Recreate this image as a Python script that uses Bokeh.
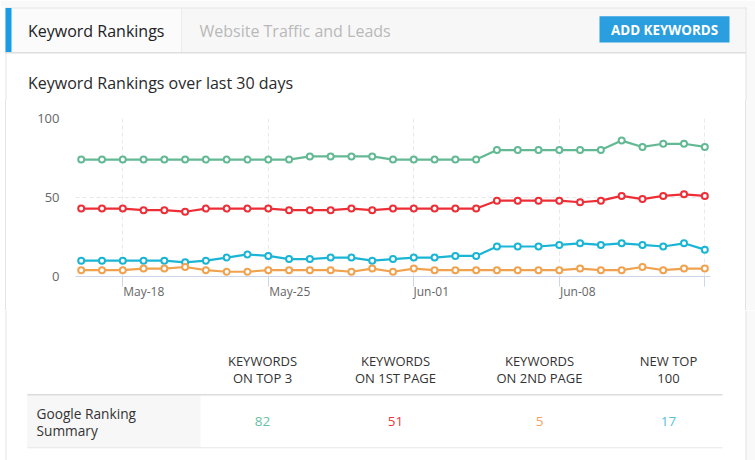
from bokeh.plotting import figure
from bokeh.layouts import column, row
from bokeh.models import Range1d, FixedTicker, Spacer, LinearAxis, CustomLabelingPolicy
from bokeh.core.properties import value
from bokeh.embed import file_html
from bokeh.resources import INLINE

# ---------------- data ----------------
dates = ["May-16", "May-17", "May-18", "May-19", "May-20", "May-21", "May-22", "May-23",
         "May-24", "May-25", "May-26", "May-27", "May-28", "May-29", "May-30", "May-31",
         "Jun-01", "Jun-02", "Jun-03", "Jun-04", "Jun-05", "Jun-06", "Jun-07", "Jun-08",
         "Jun-09", "Jun-10", "Jun-11", "Jun-12", "Jun-13", "Jun-14", "Jun-15"]
top3 = [74, 74, 74, 74, 74, 74, 74, 74, 74, 74, 74, 76, 76, 76, 76, 74, 74, 74, 74, 74,
        80, 80, 80, 80, 80, 80, 86, 82, 84, 84, 82]
first_page = [43, 43, 43, 42, 42, 41, 43, 43, 43, 43, 42, 42, 42, 43, 42, 43, 43, 43, 43, 43,
              48, 48, 48, 48, 47, 48, 51, 49, 51, 52, 51]
new_top100 = [10, 10, 10, 10, 10, 9, 10, 12, 14, 13, 11, 11, 12, 12, 10, 11, 12, 12, 13, 13,
              19, 19, 19, 20, 21, 20, 21, 20, 19, 21, 17]
second_page = [4, 4, 4, 5, 5, 6, 4, 3, 3, 4, 4, 4, 4, 3, 5, 3, 5, 4, 4, 4,
               4, 4, 4, 4, 5, 4, 4, 6, 4, 5, 5]
tick_dates = ["May-18", "May-25", "Jun-01", "Jun-08", "Jun-15"]
label_dates = ["May-18", "May-25", "Jun-01", "Jun-08"]
y_ticks = [0, 50, 100]

summary_head1 = ["KEYWORDS", "KEYWORDS", "KEYWORDS", "NEW TOP"]
summary_head2 = ["ON TOP 3", "ON 1ST PAGE", "ON 2ND PAGE", "100"]
summary_values = ["82", "51", "5", "17"]
row_label = ["Google Ranking", "Summary"]

# ---------------- styles ----------------
FONT = value("Open Sans")
GREEN, RED, CYAN, ORANGE = "#63b994", "#ee2e36", "#1ab5d5", "#f0a24f"
VAL_COLORS = ["#6ac0a4", "#e83a3f", "#f3a35e", "#57bfdc"]
CARD_BORDER = "#e3e3e3"
OUTSIDE = "#f9f9f9"
PX_PER_DAY = 20.79
LABEL_HALF_PX = [21, 21.5, 17.5, 18.5]   # half widths of the x labels (left-aligned at tick)


def plain(height, y0, y1):
    f = figure(width=755, height=height, x_range=Range1d(0, 755), y_range=Range1d(y1, y0),
               x_axis_type=None, y_axis_type=None, toolbar_location=None,
               output_backend="svg", min_border=0, outline_line_color=None,
               background_fill_color="white", border_fill_color="white",
               frame_align=False)
    return f


def card_sides(f, y0, y1):
    f.quad(left=[745.5], right=[755], top=[y0], bottom=[y1], fill_color=OUTSIDE, line_color=None)
    f.segment(x0=[5.5, 745.5], y0=[y0, y0], x1=[5.5, 745.5], y1=[y1, y1],
              line_color=CARD_BORDER, line_width=1)


# ---------------- header + title ----------------
hdr = plain(100, 0, 100)
hdr.quad(left=[0], right=[755], top=[0], bottom=[7], fill_color=OUTSIDE, line_color=None)
hdr.quad(left=[5], right=[745], top=[7.5], bottom=[52], fill_color="#f7f7f7", line_color=None)
hdr.quad(left=[5], right=[181], top=[7.5], bottom=[52], fill_color="#fbfbfb", line_color=None)
card_sides(hdr, 7, 100)
hdr.segment(x0=[5], y0=[7.5], x1=[746], y1=[7.5], line_color=CARD_BORDER, line_width=1)
hdr.segment(x0=[181], y0=[8], x1=[181], y1=[52], line_color="#ececec", line_width=1)
hdr.quad(left=[5], right=[11], top=[7.5], bottom=[52], fill_color="#1a9be6", line_color=None)
hdr.segment(x0=[5], y0=[52.3], x1=[745], y1=[52.3], line_color="#dedede", line_width=1.5)
hdr.text(x=[27.5], y=[30], text=["Keyword Rankings"], text_font=FONT,
         text_font_size=value("16px"), text_color="#222222",
         text_baseline="middle", text_align="left")
hdr.text(x=[199], y=[30], text=["Website Traffic and Leads"], text_font=FONT,
         text_font_size=value("16px"), text_color="#b9b9b9",
         text_baseline="middle", text_align="left")
hdr.quad(left=[599], right=[729], top=[15.7], bottom=[42], fill_color="#2b9ee0", line_color=None)
hdr.text(x=[664], y=[29], text=["ADD KEYWORDS"], text_font=FONT,
         text_font_size=value("13.4px"), text_font_style="bold", text_color="white",
         text_baseline="middle", text_align="center")
hdr.text(x=[27.5], y=[82], text=["Keyword Rankings over last 30 days"], text_font=FONT,
         text_font_size=value("16px"), text_color="#2a2a2a",
         text_baseline="middle", text_align="left")

# ---------------- chart ----------------
x = list(range(len(dates)))
p = figure(width=739, height=210, x_range=Range1d(-0.274, 30.274), y_range=Range1d(0, 100),
           toolbar_location=None, output_backend="svg", outline_line_color=None,
           min_border_left=69, min_border_right=35, min_border_top=18, min_border_bottom=34,
           background_fill_color="white", border_fill_color="white", frame_align=False)

tick_idx = [dates.index(d) for d in tick_dates]
# axis 1: axis line + tick marks, its labels are suppressed
p.xaxis.ticker = FixedTicker(ticks=tick_idx)
p.xaxis.axis_line_color = "#ccd6eb"
p.xaxis.major_tick_line_color = "#ccd6eb"
p.xaxis.major_tick_in = 0
p.xaxis.major_tick_out = 10
p.xaxis.minor_tick_line_color = None
p.xaxis.major_label_text_font_size = "0px"
p.xaxis.major_label_standoff = 0
p.xaxis.major_label_policy = CustomLabelingPolicy(
    code="for (const i of indices) { indices.unset(i) } return indices")

# axis 2: labels only, placed so each label starts at its tick
label_pos = [dates.index(d) + h / PX_PER_DAY for d, h in zip(label_dates, LABEL_HALF_PX)]
lab_axis = LinearAxis(ticker=FixedTicker(ticks=label_pos),
                      major_label_overrides={pos: d for pos, d in zip(label_pos, label_dates)},
                      axis_line_color=None, major_tick_line_color=None,
                      minor_tick_line_color=None, major_tick_in=0, major_tick_out=0,
                      major_label_standoff=-4, major_label_text_font="Open Sans",
                      major_label_text_font_size="12px", major_label_text_color="#666666")
p.add_layout(lab_axis, "below")

p.yaxis.ticker = FixedTicker(ticks=y_ticks)
p.yaxis.axis_line_color = None
p.yaxis.major_tick_line_color = None
p.yaxis.minor_tick_line_color = None
p.yaxis.major_tick_in = 0
p.yaxis.major_tick_out = 0
p.yaxis.major_label_standoff = 16
p.yaxis.major_label_text_font = "Open Sans"
p.yaxis.major_label_text_font_size = "13px"
p.yaxis.major_label_text_color = "#666666"

p.xgrid.ticker = FixedTicker(ticks=tick_idx)
p.xgrid.grid_line_color = "#e9e9e9"
p.xgrid.grid_line_dash = "4 3"
p.ygrid.grid_line_color = "#e6e6e6"
p.ygrid.grid_line_dash = "4 3"

for vals, col in [(top3, GREEN), (first_page, RED), (new_top100, CYAN), (second_page, ORANGE)]:
    p.line(x, vals, line_color=col, line_width=2.2)
    p.scatter(x, vals, size=6, fill_color="white", line_color=col, line_width=2)

chart_row = row(
    Spacer(width=5, height=210),
    Spacer(width=1, height=210, styles={"background-color": CARD_BORDER}),
    p,
    Spacer(width=1, height=210, styles={"background-color": CARD_BORDER}),
    Spacer(width=9, height=210, styles={"background-color": OUTSIDE}),
    spacing=0,
)

# ---------------- summary table ----------------
tbl = plain(150, 310, 460)
col_x = [262, 395, 539, 668]
card_sides(tbl, 310, 460)
tbl.quad(left=[26.7], right=[200], top=[394.3], bottom=[447.3], fill_color="#f7f7f7", line_color=None)
tbl.segment(x0=[26.7], y0=[394.3], x1=[722], y1=[394.3], line_color="#dcdcdc", line_width=1.5)
tbl.segment(x0=[26.7], y0=[447.3], x1=[722], y1=[447.3], line_color="#e6e6e6", line_width=1)
tbl.text(x=col_x, y=[360.7] * 4, text=summary_head1, text_font=FONT,
         text_font_size=value("13px"), text_color="#333333",
         text_baseline="middle", text_align="center")
tbl.text(x=col_x, y=[377.7] * 4, text=summary_head2, text_font=FONT,
         text_font_size=value("13px"), text_color="#333333",
         text_baseline="middle", text_align="center")
tbl.text(x=col_x, y=[421] * 4, text=summary_values, text_font=FONT,
         text_font_size=value("13.5px"), text_color=VAL_COLORS,
         text_baseline="middle", text_align="center")
tbl.text(x=[36, 36], y=[412.7, 430], text=row_label, text_font=FONT,
         text_font_size=value("13.7px"), text_color="#333333",
         text_baseline="middle", text_align="left")

layout = column(hdr, chart_row, tbl, spacing=0)
open("out.html", "w").write(file_html(layout, INLINE))
